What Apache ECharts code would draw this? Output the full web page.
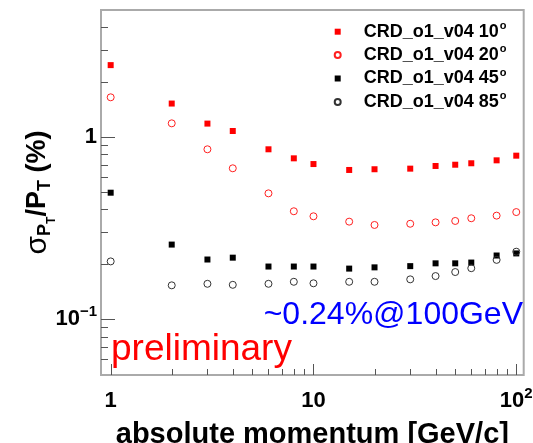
<!DOCTYPE html>
<html>
<head>
<meta charset="utf-8">
<script src="https://cdn.jsdelivr.net/npm/echarts@6/dist/echarts.min.js"></script>
<style>
html, body { margin: 0; padding: 0; background: #fff; }
#chart { width: 533px; height: 443px; }
</style>
</head>
<body>
<div id="chart"></div>
<script>
// absolute momentum [GeV/c]
const momentum = [1, 2, 3, 4, 6, 8, 10, 15, 20, 30, 40, 50, 60, 80, 100];
// sigma_pt / pt (%) for each polar angle
const res10 = [2.47, 1.52, 1.18, 1.075, 0.853, 0.761, 0.708, 0.657, 0.663, 0.668, 0.691, 0.702, 0.715, 0.742, 0.787];
const res20 = [1.645, 1.184, 0.853, 0.671, 0.489, 0.390, 0.366, 0.342, 0.328, 0.333, 0.339, 0.345, 0.357, 0.369, 0.386];
const res45 = [0.493, 0.256, 0.212, 0.217, 0.194, 0.194, 0.194, 0.189, 0.192, 0.195, 0.202, 0.202, 0.204, 0.223, 0.229];
const res85 = [0.207, 0.153, 0.156, 0.154, 0.156, 0.160, 0.157, 0.160, 0.160, 0.165, 0.172, 0.181, 0.190, 0.211, 0.234];
const seriesNames = ['CRD_o1_v04 10°', 'CRD_o1_v04 20°', 'CRD_o1_v04 45°', 'CRD_o1_v04 85°'];

// ticks
const xMajor = [1, 10, 100];
const xLabels = ['{b|1}', '{b|10}', '{b|10}{sup|2}'];
const xMinor = [2, 3, 4, 5, 6, 7, 8, 9, 20, 30, 40, 50, 60, 70, 80, 90];
const yMajor = [0.1, 1];
const yLabels = ['{b|10}{sup|\u22121}', '{b|1}'];
const yMinor = [0.06, 0.07, 0.08, 0.09, 0.2, 0.3, 0.4, 0.5, 0.6, 0.7, 0.8, 0.9, 2, 3, 4];

const FONT = '"Liberation Sans", Arial, Helvetica, sans-serif';
const X_MIN = 0.896, X_MAX = 108.8;
const Y_MIN = 0.0493, Y_MAX = 4.955;

const chart = echarts.init(document.getElementById('chart'));

function pts(vals) {
  return momentum.map((m, i) => [m, vals[i]]);
}

const labelRich = {
  b: { fontSize: 22, fontWeight: 'bold', fontFamily: FONT, color: '#000', lineHeight: 26 },
  sup: { fontSize: 15, fontWeight: 'bold', fontFamily: FONT, color: '#000', lineHeight: 12, padding: [0, 0, 14, 0] }
};

function logAxis(type, min, max, ticks, labels) {
  return {
    type: 'log', logBase: 10, min: min, max: max,
    position: type === 'x' ? 'bottom' : 'left',
    axisLine: { show: false },
    splitLine: { show: false },
    axisTick: { show: false },
    axisLabel: {
      show: true, customValues: ticks, margin: type === 'x' ? 13 : 4,
      formatter: v => {
        const i = ticks.findIndex(t => Math.abs(t - v) / t < 1e-6);
        return i >= 0 ? labels[i] : '';
      },
      rich: labelRich
    }
  };
}

// tick marks drawn inside the frame, placed through the axis scales
function tickSeries(dim, values, len) {
  return {
    type: 'custom', silent: true, clip: false, z: 3,
    data: values.map(v => dim === 'x' ? [v, Y_MIN] : [X_MIN, v]),
    renderItem: (params, api) => {
      const p = api.coord([api.value(0), api.value(1)]);
      const shape = dim === 'x'
        ? { x1: Math.round(p[0]) + 0.5, y1: p[1], x2: Math.round(p[0]) + 0.5, y2: p[1] - len }
        : { x1: p[0], y1: Math.round(p[1]) + 0.5, x2: p[0] + len, y2: Math.round(p[1]) + 0.5 };
      return { type: 'line', shape: shape, style: { stroke: '#555', lineWidth: 1 } };
    }
  };
}

const xMain = logAxis('x', X_MIN, X_MAX, xMajor, xLabels);
Object.assign(xMain, {
  name: 'absolute momentum [GeV/c]',
  nameLocation: 'middle',
  nameGap: 45,
  nameMoveOverlap: false,
  nameTextStyle: { fontSize: 29, fontWeight: 'bold', fontFamily: FONT, color: '#000', lineHeight: 29 }
});

const yMain = logAxis('y', Y_MIN, Y_MAX, yMajor, yLabels);
Object.assign(yMain, {
  name: '{s|\u03c3}{p|P}{t|T}{m|/P}{q|T}{m| (%)}',
  nameLocation: 'middle',
  nameRotate: 90,
  nameGap: 48,
  nameMoveOverlap: false,
  nameTextStyle: {
    rich: {
      s: { fontSize: 30, fontFamily: FONT, color: '#000', lineHeight: 30 },
      m: { fontSize: 27, fontWeight: 'bold', fontFamily: FONT, color: '#000', lineHeight: 30 },
      p: { fontSize: 18, fontWeight: 'bold', fontFamily: FONT, color: '#000', lineHeight: 18, padding: [14, 0, 0, 0] },
      q: { fontSize: 18, fontWeight: 'bold', fontFamily: FONT, color: '#000', lineHeight: 18, padding: [14, 0, 0, 0] },
      t: { fontSize: 12, fontWeight: 'bold', fontFamily: FONT, color: '#000', lineHeight: 12, padding: [28, 0, 0, 0] }
    }
  }
});

chart.setOption({
  animation: false,
  backgroundColor: '#fff',
  grid: {
    left: 101, right: 9.3, top: 10, bottom: 68,
    show: true, borderColor: '#aaaaaa', borderWidth: 2, backgroundColor: 'transparent',
    outerBoundsMode: 'none', containLabel: false
  },
  legend: {
    orient: 'vertical',
    left: 333.7, top: 20.2,
    padding: 0,
    itemWidth: 6, itemHeight: 6, itemGap: 0.4,
    selectedMode: false,
    data: seriesNames,
    formatter: n => '{t|' + n.replace('°', '') + '}{s|o}',
    textStyle: {
      rich: {
        t: { fontSize: 18, fontWeight: 'bold', fontFamily: FONT, color: '#000', lineHeight: 21, padding: [0, 0, 0, 18] },
        s: { fontSize: 11, fontWeight: 'bold', fontFamily: FONT, color: '#000', lineHeight: 9, padding: [0, 0, 12, 1] }
      }
    }
  },
  xAxis: xMain,
  yAxis: yMain,
  series: [
    { name: seriesNames[0], type: 'scatter', symbol: 'rect', symbolSize: 6,
      itemStyle: { color: '#ff0000', opacity: 1 }, data: pts(res10) },
    { name: seriesNames[1], type: 'scatter', symbol: 'circle', symbolSize: 7,
      itemStyle: { color: 'rgba(255,255,255,0)', borderColor: '#ff2020', borderWidth: 1, opacity: 1 }, data: pts(res20) },
    { name: seriesNames[2], type: 'scatter', symbol: 'rect', symbolSize: 6,
      itemStyle: { color: '#000', opacity: 1 }, data: pts(res45) },
    { name: seriesNames[3], type: 'scatter', symbol: 'circle', symbolSize: 7,
      itemStyle: { color: 'rgba(255,255,255,0)', borderColor: '#333', borderWidth: 1, opacity: 1 }, data: pts(res85) },
    tickSeries('x', xMajor, 11),
    tickSeries('x', xMinor, 6),
    tickSeries('y', yMajor, 14),
    tickSeries('y', yMinor, 7)
  ],
  graphic: [
    { type: 'text', x: 523, y: 315, silent: true,
      style: { text: '~0.24%@100GeV', align: 'right', verticalAlign: 'middle', fontSize: 32, fontFamily: FONT, fill: '#0000ff' } },
    { type: 'text', x: 111, y: 350, silent: true,
      style: { text: 'preliminary', align: 'left', verticalAlign: 'middle', fontSize: 37, fontFamily: FONT, fill: '#ff0000' } }
  ]
});
</script>
</body>
</html>
